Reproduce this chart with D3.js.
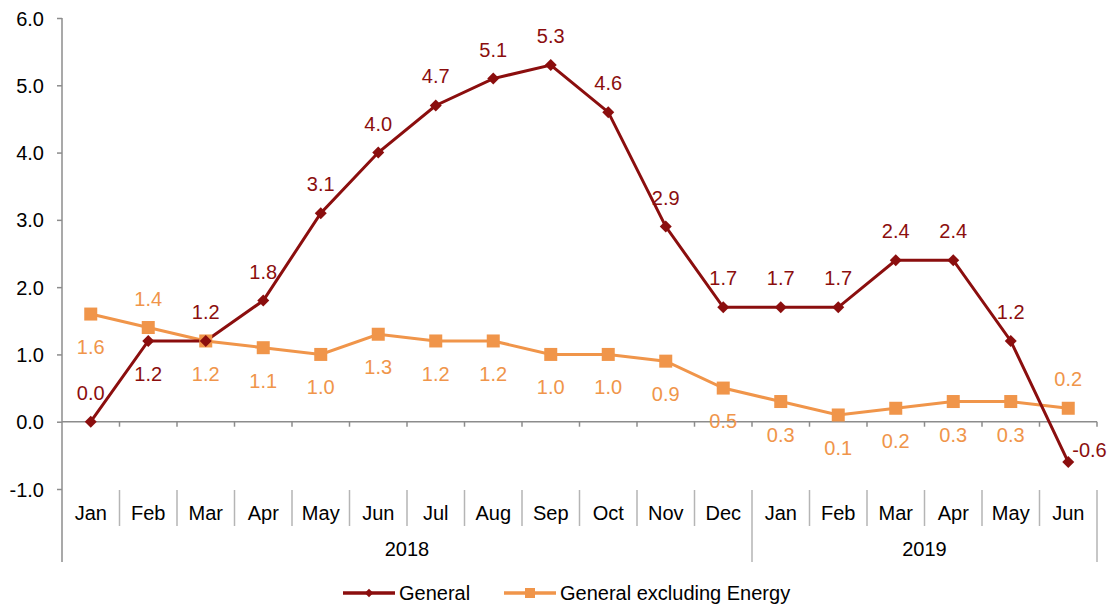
<!DOCTYPE html>
<html><head><meta charset="utf-8">
<script src="https://cdn.jsdelivr.net/npm/d3@7"></script>
<style>body{margin:0;background:#fff}svg{display:block;font-family:"Liberation Sans",Arial,sans-serif}</style>
</head><body><svg id="c" width="1111" height="605"></svg>
<script>
const months = ["Jan","Feb","Mar","Apr","May","Jun","Jul","Aug","Sep","Oct","Nov","Dec","Jan","Feb","Mar","Apr","May","Jun"];
const years = [{label:"2018", start:0, end:12},{label:"2019", start:12, end:18}];
const general = [0.0,1.2,1.2,1.8,3.1,4.0,4.7,5.1,5.3,4.6,2.9,1.7,1.7,1.7,2.4,2.4,1.2,-0.6];
const exclEnergy = [1.6,1.4,1.2,1.1,1.0,1.3,1.2,1.2,1.0,1.0,0.9,0.5,0.3,0.1,0.2,0.3,0.3,0.2];
const generalLabelPos = ["a","b","a","a","a","a","a","a","a","a","a","a","a","a","a","a","a","r"];
const exclLabelPos = ["b","a","b","b","b","b","b","b","b","b","b","b","b","b","b","b","b","a"];
const yTicks = [-1,0,1,2,3,4,5,6];
const seriesNames = ["General","General excluding Energy"];

const RED = "#8B0E0E", ORANGE = "#F0954A", GREY = "#8c8c8c";
const FS = 20;
const fmt = v => d3.format(".1f")(v).replace("\u2212", "-");
const svg = d3.select("#c");
const L = 62, R = 1097, T = 18, B = 489;
const idx = months.map((_, i) => i);
const x = d3.scaleBand().domain(idx).range([L, R]);
const y = d3.scaleLinear().domain([-1, 6]).range([B, T]);
const cx = i => x(i) + x.bandwidth() / 2;

// y axis
const yAxis = svg.append("g").attr("transform", `translate(${L},0)`)
  .call(d3.axisLeft(y).tickValues(yTicks).tickFormat(fmt).tickSize(5).tickSizeOuter(0));
yAxis.select(".domain").remove();
yAxis.selectAll(".tick line").attr("stroke", GREY).attr("stroke-width", 1.5);
yAxis.selectAll(".tick text").attr("font-size", FS).attr("fill", "#000").attr("x", -18).attr("dy", "0.35em");
svg.append("line").attr("x1", L).attr("x2", L).attr("y1", T).attr("y2", 562).attr("stroke", GREY).attr("stroke-width", 1.5);

// zero line with ticks
svg.append("line").attr("x1", L).attr("x2", R).attr("y1", y(0)).attr("y2", y(0)).attr("stroke", GREY).attr("stroke-width", 1.5);
for (let i = 1; i <= 18; i++) {
  const xx = i < 18 ? x(i) : R;
  svg.append("line").attr("x1", xx).attr("x2", xx).attr("y1", y(0)).attr("y2", y(0) + 5).attr("stroke", GREY).attr("stroke-width", 1.5);
}

// category axis
const isYearBoundary = i => years.some(yr => yr.start === i || yr.end === i);
for (let i = 1; i <= 18; i++) {
  const xx = i < 18 ? x(i) : R;
  const full = isYearBoundary(i);
  svg.append("line").attr("x1", xx).attr("x2", xx).attr("y1", B + 1).attr("y2", full ? 562 : 526)
    .attr("stroke", "#b5b5b5").attr("stroke-width", 1.5);
}
svg.append("g").selectAll("text").data(months).join("text")
  .attr("x", (d, i) => cx(i)).attr("y", 513).attr("dy", "0.35em").attr("text-anchor", "middle")
  .attr("font-size", FS).attr("fill", "#000").text(d => d);
svg.append("g").selectAll("text").data(years).join("text")
  .attr("x", d => ((d.start === 0 ? L : x(d.start)) + (d.end === 18 ? R : x(d.end))) / 2)
  .attr("y", 549).attr("dy", "0.35em").attr("text-anchor", "middle")
  .attr("font-size", FS).attr("fill", "#000").text(d => d.label);

// lines
const line = d3.line().x((d, i) => cx(i)).y(d => y(d));
svg.append("path").datum(exclEnergy).attr("d", line).attr("fill", "none").attr("stroke", ORANGE).attr("stroke-width", 3);
svg.append("path").datum(general).attr("d", line).attr("fill", "none").attr("stroke", RED).attr("stroke-width", 3);

// markers
svg.append("g").selectAll("rect").data(exclEnergy).join("rect")
  .attr("x", (d, i) => cx(i) - 6.5).attr("y", d => y(d) - 6.5).attr("width", 13).attr("height", 13).attr("fill", ORANGE);
const diamond = d3.symbol().type(d3.symbolSquare).size(72);
svg.append("g").selectAll("path").data(general).join("path")
  .attr("d", diamond).attr("transform", (d, i) => `translate(${cx(i)},${y(d)}) rotate(45)`).attr("fill", RED);

// data labels
function labels(data, pos, color) {
  svg.append("g").selectAll("text").data(data).join("text")
    .attr("x", (d, i) => pos[i] === "r" ? cx(i) + 4 : cx(i))
    .attr("y", (d, i) => pos[i] === "a" ? y(d) - 29 : pos[i] === "b" ? y(d) + 33 : y(d) - 12)
    .attr("dy", "0.35em")
    .attr("text-anchor", (d, i) => pos[i] === "r" ? "start" : "middle")
    .attr("font-size", FS).attr("fill", color).text(d => fmt(d));
}
labels(exclEnergy, exclLabelPos, ORANGE);
labels(general, generalLabelPos, RED);

// legend
const lg = svg.append("g");
const LY = 593;
const items = [{name: seriesNames[0], color: RED, x: 343, type: "d"}, {name: seriesNames[1], color: ORANGE, x: 504, type: "s"}];
const smallDiamond = d3.symbol().type(d3.symbolSquare).size(36);
items.forEach(it => {
  lg.append("line").attr("x1", it.x).attr("x2", it.x + 52).attr("y1", LY).attr("y2", LY).attr("stroke", it.color).attr("stroke-width", 3.5);
  if (it.type === "d") lg.append("path").attr("d", smallDiamond).attr("transform", `translate(${it.x + 26},${LY}) rotate(45)`).attr("fill", it.color);
  else lg.append("rect").attr("x", it.x + 26 - 5).attr("y", LY - 5).attr("width", 10).attr("height", 10).attr("fill", it.color);
  lg.append("text").attr("x", it.x + 56).attr("y", LY).attr("dy", "0.35em").attr("font-size", FS).attr("fill", "#000").text(it.name);
});
</script></body></html>
